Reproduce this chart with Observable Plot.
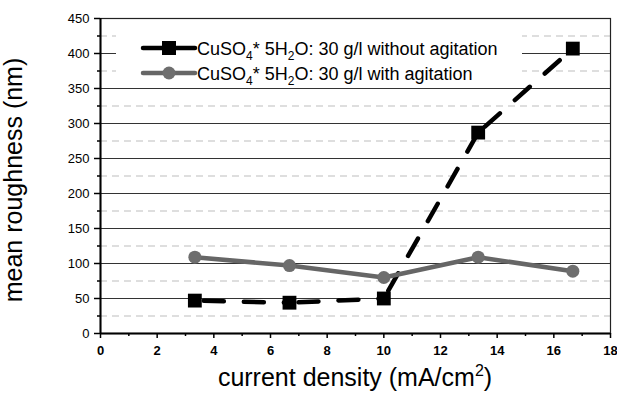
<!DOCTYPE html>
<html>
<head>
<meta charset="utf-8">
<script src="https://cdn.jsdelivr.net/npm/d3@7"></script>
<script src="https://cdn.jsdelivr.net/npm/@observablehq/plot@0.6"></script>
<style>
  html, body { margin: 0; padding: 0; background: #fff; }
  svg { font-family: "Liberation Sans", Arial, sans-serif; }
</style>
</head>
<body>
<div id="chart"></div>
<script>
// Data
const currentDensity = [3.33, 6.67, 10, 13.33, 16.67];
const roughWithout = [47, 44, 50, 287, 407];
const roughWith = [109, 97, 80, 109, 89];
const seriesWithoutLabel = ["CuSO", "4", "* 5H", "2", "O: 30 g/l without agitation"];
const seriesWithLabel = ["CuSO", "4", "* 5H", "2", "O: 30 g/l with agitation"];
const xTicks = [0, 2, 4, 6, 8, 10, 12, 14, 16, 18];
const xMinorTicks = [1, 3, 5, 7, 9, 11, 13, 15, 17];
const yTicks = [0, 50, 100, 150, 200, 250, 300, 350, 400, 450];
const yMinorTicks = [25, 75, 125, 175, 225, 275, 325, 375, 425];
const majorGrid = [50, 100, 150, 200, 250, 300, 350, 400];

const without = currentDensity.map((x, i) => ({x, y: roughWithout[i]}));
const withAg = currentDensity.map((x, i) => ({x, y: roughWith[i]}));
const withoutSegs = without.slice(0, -1).map((d, i) => ({x1: d.x, y1: d.y, x2: without[i + 1].x, y2: without[i + 1].y}));

const plot = Plot.plot({
  width: 617,
  height: 402,
  marginLeft: 100,
  marginRight: 7,
  marginTop: 18,
  marginBottom: 69,
  style: {fontFamily: "Liberation Sans, Arial, sans-serif", background: "#fff"},
  x: {domain: [0, 18]},
  y: {domain: [0, 450]},
  marks: [
    Plot.ruleY(yMinorTicks, {stroke: "#b5b5b5", strokeWidth: 0.9, strokeDasharray: "7,5"}),
    Plot.ruleY(majorGrid, {stroke: "#333", strokeWidth: 1}),
    Plot.frame({stroke: "#222", strokeWidth: 1.2}),
    Plot.axisX({ticks: xTicks, tickSize: 5, tickPadding: 7, fontSize: 13, fontWeight: "bold", label: null, stroke: "#000", strokeWidth: 1.5}),
    Plot.axisX({ticks: xMinorTicks, tickSize: 3, text: null, label: null, stroke: "#000", strokeWidth: 1.5}),
    Plot.axisY({ticks: yTicks, tickSize: 6, tickPadding: 5, fontSize: 13, label: null, stroke: "#000", strokeWidth: 1.5}),
    Plot.axisY({ticks: yMinorTicks, tickSize: 3, text: null, label: null, stroke: "#000", strokeWidth: 1.5}),
    Plot.ruleX([0], {stroke: "#000", strokeWidth: 2}),
    Plot.ruleY([0], {stroke: "#000", strokeWidth: 2}),
    Plot.link(withoutSegs, {x1: "x1", y1: "y1", x2: "x2", y2: "y2", stroke: "#000", strokeWidth: 4.5, strokeDasharray: "20,20", strokeDashoffset: 31, strokeLinecap: "round"}),
    Plot.dot(without, {x: "x", y: "y", symbol: "square", r: 7.8, fill: "#000", stroke: "none"}),
    Plot.line(withAg, {x: "x", y: "y", stroke: "#666", strokeWidth: 4.5}),
    Plot.dot(withAg, {x: "x", y: "y", r: 6.5, fill: "#6e6e6e", stroke: "none"})
  ]
});
document.getElementById("chart").appendChild(plot);

const svg = d3.select(plot);
// Axis titles
svg.append("text")
  .attr("transform", "translate(22,180) rotate(-90)")
  .attr("text-anchor", "middle")
  .attr("font-size", 25)
  .attr("fill", "#000")
  .text("mean roughness (nm)");
const xlab = svg.append("text")
  .attr("x", 355).attr("y", 386)
  .attr("text-anchor", "middle")
  .attr("font-size", 25)
  .attr("fill", "#000");
xlab.append("tspan").text("current density (mA/cm");
xlab.append("tspan").attr("dy", -10).attr("font-size", 16).text("2");
xlab.append("tspan").attr("dy", 10).text(")");

// Legend
const lg = svg.append("g");
lg.append("rect").attr("x", 116).attr("y", 28).attr("width", 406).attr("height", 57).attr("fill", "#fff");
function legendRow(y, labels, dark) {
  lg.append("line").attr("x1", 143).attr("x2", 195).attr("y1", y).attr("y2", y)
    .attr("stroke", dark ? "#000" : "#666").attr("stroke-width", 4.5).attr("stroke-linecap", "round");
  if (dark) {
    lg.append("rect").attr("x", 162).attr("y", y - 7).attr("width", 14).attr("height", 14).attr("fill", "#000");
  } else {
    lg.append("circle").attr("cx", 169).attr("cy", y).attr("r", 6.5).attr("fill", "#6e6e6e");
  }
  const t = lg.append("text").attr("x", 197).attr("y", y + 6.5)
    .attr("text-anchor", "start").attr("font-size", 18).attr("fill", "#000");
  t.append("tspan").text(labels[0]);
  t.append("tspan").attr("dy", 5).attr("font-size", 12).text(labels[1]);
  t.append("tspan").attr("dy", -5).text(labels[2]);
  t.append("tspan").attr("dy", 5).attr("font-size", 12).text(labels[3]);
  t.append("tspan").attr("dy", -5).text(labels[4]);
}
legendRow(48, seriesWithoutLabel, true);
legendRow(73, seriesWithLabel, false);
</script>
</body>
</html>
